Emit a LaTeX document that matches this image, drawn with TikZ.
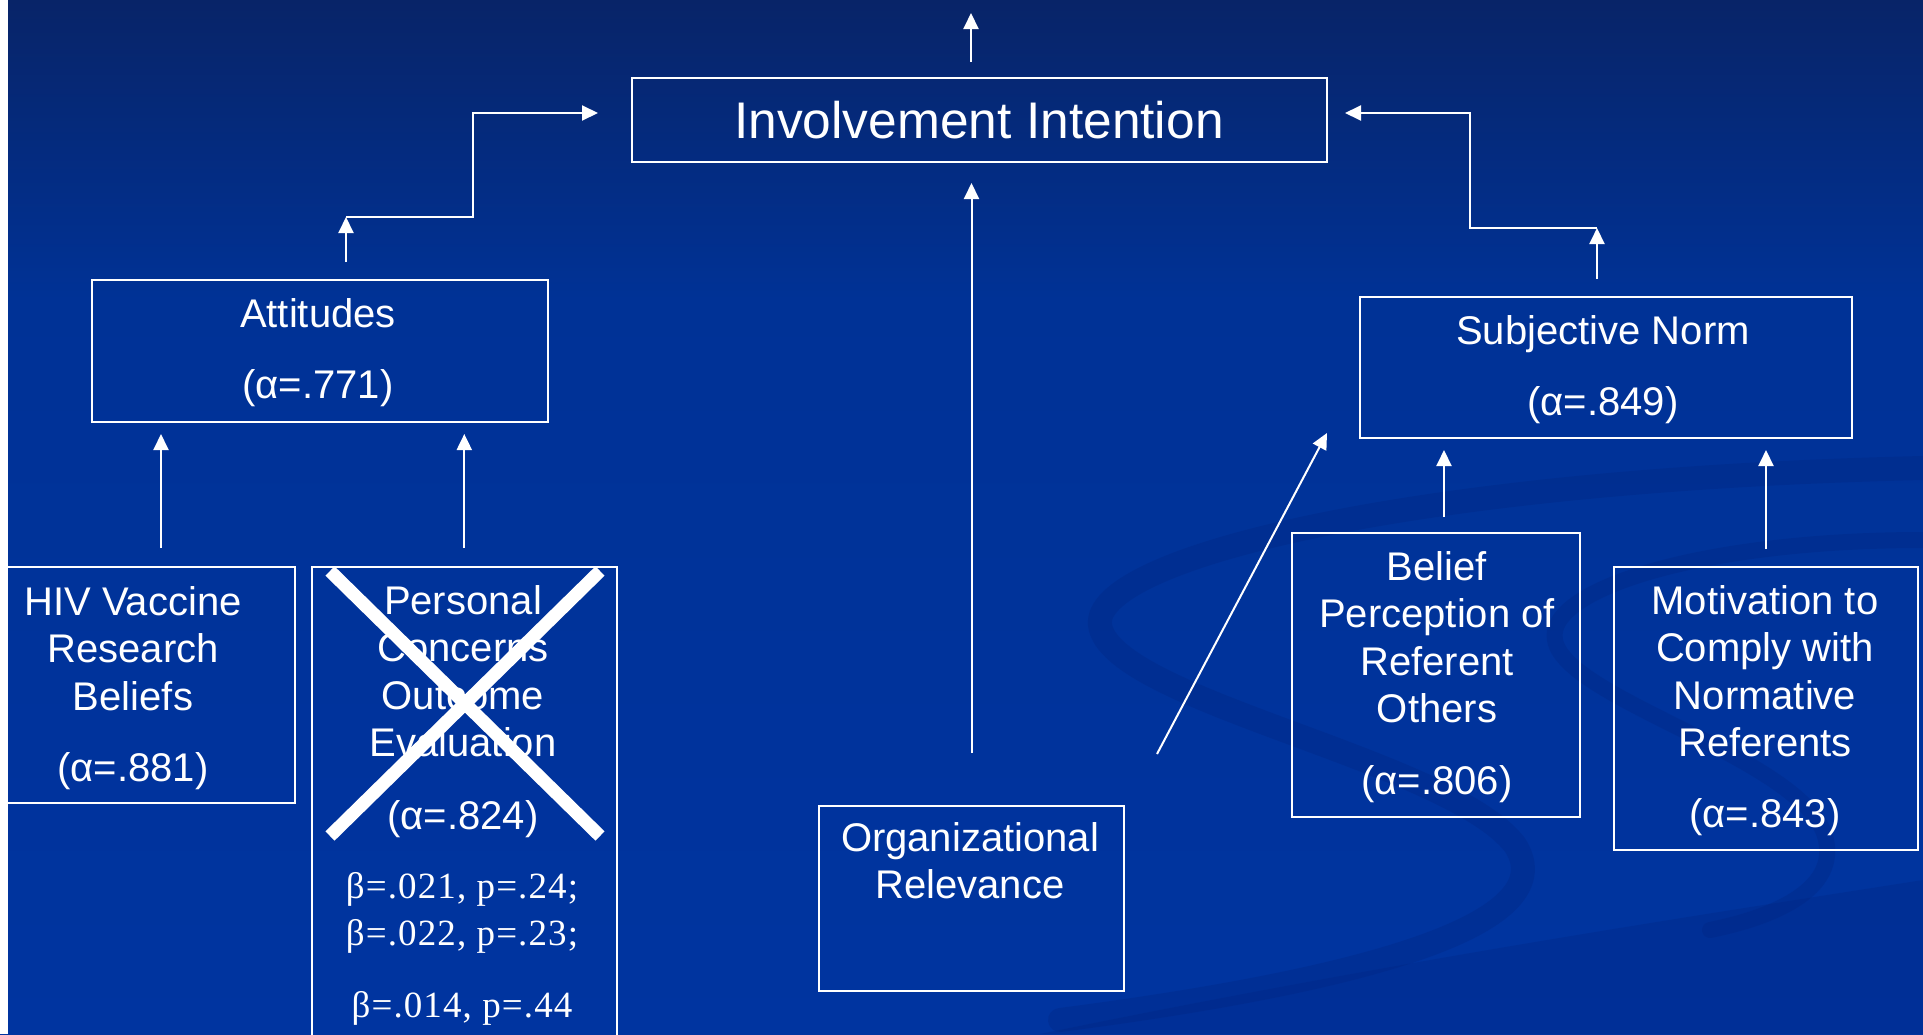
\documentclass[tikz,border=0pt]{standalone}
\usepackage{fontspec}
\setmainfont{Liberation Sans}
\newfontfamily\statfont[LetterSpace=3]{Liberation Serif}
\usetikzlibrary{arrows.meta,calc}

\definecolor{bgtop}{RGB}{8,36,104}
\definecolor{bgmid}{RGB}{0,50,150}
\definecolor{bgbot}{RGB}{0,52,160}
\definecolor{swirl}{RGB}{0,36,125}

% centred multi-line text whose baseline is the first line
\newcommand\stack[1]{\begin{tabular}[t]{@{}c@{}}#1\end{tabular}}

\begin{document}
\begin{tikzpicture}[x=1pt,y=-1pt,
  box/.style={draw=white,line width=2pt,inner sep=0pt,rectangle},
  lbl/.style={text=white,inner sep=0pt,anchor=base,font=\fontsize{40}{47.5}\selectfont},
  stat/.style={text=white,inner sep=0pt,anchor=base,font=\statfont\fontsize{37}{47}\selectfont},
  arr/.style={draw=white,line width=2pt,-{Triangle[length=16pt,width=15pt]}},
  band/.style={draw=swirl,opacity=0.28,line cap=round}]

\useasboundingbox (0,0) rectangle (1923,1034);
\clip (0,0) rectangle (1923,1034);

% background
\shade[top color=bgtop,bottom color=bgmid] (0,0) rectangle (1923,300);
\shade[top color=bgmid,bottom color=bgbot] (0,300) rectangle (1923,1034);

% decorative swoosh in the lower right
\fill[swirl,opacity=0.25] (1040,1034) .. controls (1400,960) and (1700,915) .. (1923,880)
  -- (1923,1034) -- cycle;
\draw[band,line width=24pt] (1923,468) .. controls (1400,480) and (1092,560) .. (1100,625)
  .. controls (1110,700) and (1450,760) .. (1515,845)
  .. controls (1570,930) and (1330,985) .. (1060,1020);
\draw[band,line width=16pt] (1923,540) .. controls (1700,540) and (1545,590) .. (1555,640)
  .. controls (1565,700) and (1810,760) .. (1826,840)
  .. controls (1838,895) and (1760,920) .. (1710,930);

% boxes
\node[box,minimum width=695pt,minimum height=84pt]    (inv) at (979.5,120)  {};
\node[box,minimum width=456.5pt,minimum height=142pt] (att) at (319.75,351) {};
\node[box,minimum width=324pt,minimum height=236pt]   (hiv) at (133,685)    {};
\node[box,minimum width=305.4pt,minimum height=493pt] (per) at (464.3,813.5){};
\node[box,minimum width=305pt,minimum height=185pt]   (org) at (971.5,898.5){};
\node[box,minimum width=492pt,minimum height=140.5pt] (sub) at (1606,367.25){};
\node[box,minimum width=288pt,minimum height=284pt]   (bel) at (1436,675)   {};
\node[box,minimum width=304pt,minimum height=283pt]   (mot) at (1766,708.5) {};

% texts
\node[lbl,font=\fontsize{51.5}{60}\selectfont] (invT) at (979,138) {Involvement Intention};
\node[lbl] (attT) at (318,327) {\stack{Attitudes\\[24pt](α=.771)}};
\node[lbl] (hivT) at (133,615) {\stack{HIV Vaccine\\Research\\Beliefs\\[24pt](α=.881)}};
\node[lbl] (perT) at (463,614) {\stack{Personal\\Concerns\\Outcome\\Evaluation\\[25pt](α=.824)}};
\node[stat] (perS) at (462,898) {\stack{β=.021, p=.24;\\β=.022, p=.23;\\[25pt]β=.014, p=.44}};
\node[lbl] (orgT) at (970,851) {\stack{Organizational\\Relevance}};
\node[lbl] (subT) at (1603,344) {\stack{Subjective Norm\\[24pt](α=.849)}};
\node[lbl] (belT) at (1437,580) {\stack{Belief\\Perception of\\Referent\\Others\\[24pt](α=.806)}};
\node[lbl] (motT) at (1765,614) {\stack{Motivation to\\Comply with\\Normative\\Referents\\[23pt](α=.843)}};

% cross over the personal concerns construct
\draw[white,line width=13pt] (330,571) -- (600,836);
\draw[white,line width=13pt] (600,571) -- (330,836);

% connector helper points
\coordinate (top) at (971,13);
\coordinate (a1)  at (161,0);
\coordinate (a3)  at (346,217);
\coordinate (e1)  at (473,113);
\coordinate (s3)  at (1597,228);
\coordinate (e2)  at (1470,113);
\coordinate (b1)  at (1444,0);
\coordinate (dA)  at (1157,754);
\coordinate (dB)  at (1327,433);

% connectors
\draw[arr,shorten <=15pt] (inv.north -| top) -- (top);
\draw[arr,shorten <=52pt,shorten >=20pt] (org.north) -- (org.north |- inv.south);
\draw[arr] (dA) -- (dB);

\draw[arr,shorten <=18pt,shorten >=11pt] (hiv.north -| a1) -- (att.south -| a1);
\draw[arr,shorten <=18pt,shorten >=11pt] (per.north) -- (per.north |- att.south);
\draw[arr,shorten <=17pt] (att.north -| a3) -- (a3);
\draw[arr,shorten >=33pt] (a3) -| (e1) -- (inv.west |- e1);

\draw[arr,shorten <=15pt,shorten >=11.5pt] (bel.north -| b1) -- (sub.south -| b1);
\draw[arr,shorten <=17pt,shorten >=11.5pt] (mot.north) -- (mot.north |- sub.south);
\draw[arr,shorten <=17pt] (sub.north -| s3) -- (s3);
\draw[arr,shorten >=17pt] (s3) -| (e2) -- (inv.east |- e2);

% white margin strip on the left edge
\fill[white] (0,0) rectangle (8,1034);
\end{tikzpicture}
\end{document}
